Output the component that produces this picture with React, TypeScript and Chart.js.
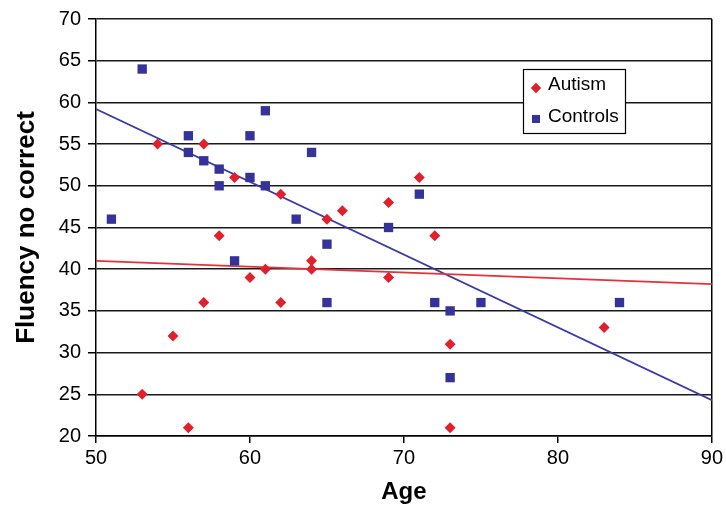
import React, { useEffect, useRef } from 'react';
import { Chart, registerables } from 'chart.js';

Chart.register(...registerables);

// ---- Data ----
const autismAge = [54, 57, 59, 62, 58, 60, 61, 57, 62, 55, 53, 56, 64, 64, 65, 66, 69, 71, 72, 69, 73, 83, 73];
const autismFluency = [55, 55, 51, 49, 44, 39, 40, 36, 36, 32, 25, 21, 41, 40, 46, 47, 48, 51, 44, 39, 31, 33, 21];

const controlsAge = [51, 53, 56, 56, 57, 58, 58, 59, 60, 60, 61, 61, 63, 64, 65, 65, 69, 71, 72, 73, 75, 84, 73];
const controlsFluency = [46, 64, 56, 54, 53, 52, 50, 41, 56, 51, 59, 50, 46, 54, 43, 36, 45, 49, 36, 35, 36, 36, 27];

const autismTrendAge = [50, 90];
const autismTrendFluency = [41.0, 38.2];
const controlsTrendAge = [50, 90];
const controlsTrendFluency = [59.2, 24.3];

const xTickValues = [50, 60, 70, 80, 90];
const yTickValues = [20, 25, 30, 35, 40, 45, 50, 55, 60, 65, 70];

const seriesLabels = ['Autism', 'Controls'];
const xTitle = 'Age';
const yTitle = 'Fluency no correct';

const FONT = "'Liberation Sans', Arial, Helvetica, sans-serif";
const RED = '#e0202c';
const BLUE = '#333399';

const toPoints = (xs: number[], ys: number[]) => xs.map((x, i) => ({ x, y: ys[i] }));

const insetLegend = {
  id: 'insetLegend',
  afterDraw(chart: any) {
    const ctx = chart.ctx as CanvasRenderingContext2D;
    const area = chart.chartArea;
    const left = area.left + 427;
    const top = area.top + 50;
    const w = 102;
    const h = 64;
    ctx.save();
    ctx.fillStyle = '#ffffff';
    ctx.fillRect(left, top, w, h);
    ctx.strokeStyle = '#000000';
    ctx.lineWidth = 1.2;
    ctx.strokeRect(left + 0.5, top + 0.5, w, h);
    ctx.font = `19px ${FONT}`;
    ctx.textBaseline = 'middle';
    ctx.textAlign = 'left';
    const ds = chart.data.datasets;
    const cx = left + 13;
    // Autism entry
    const r1y = top + 15.5;
    const my1 = top + 19;
    const d = 5.2;
    ctx.fillStyle = ds[0].backgroundColor;
    ctx.beginPath();
    ctx.moveTo(cx, my1 - d);
    ctx.lineTo(cx + d, my1);
    ctx.lineTo(cx, my1 + d);
    ctx.lineTo(cx - d, my1);
    ctx.closePath();
    ctx.fill();
    ctx.fillStyle = '#000';
    ctx.fillText(ds[0].label, left + 25, r1y);
    // Controls entry
    const r2y = top + 48;
    const my2 = top + 50;
    ctx.fillStyle = ds[1].backgroundColor;
    ctx.fillRect(cx - 4, my2 - 4, 8, 8);
    ctx.fillStyle = '#000';
    ctx.fillText(ds[1].label, left + 25, r2y);
    ctx.restore();
  },
};

export default function App() {
  const canvasRef = useRef<HTMLCanvasElement | null>(null);

  useEffect(() => {
    const canvas = canvasRef.current;
    if (!canvas) return;
    const chart = new Chart(canvas, {
      type: 'scatter',
      data: {
        datasets: [
          {
            label: seriesLabels[0],
            data: toPoints(autismAge, autismFluency),
            pointStyle: 'rectRot',
            pointRadius: 5.5,
            pointHoverRadius: 5.5,
            backgroundColor: RED,
            borderColor: RED,
            borderWidth: 0,
          },
          {
            label: seriesLabels[1],
            data: toPoints(controlsAge, controlsFluency),
            pointStyle: 'rect',
            pointRadius: 6.6,
            pointHoverRadius: 6.6,
            backgroundColor: BLUE,
            borderColor: BLUE,
            borderWidth: 0,
          },
          {
            label: 'Autism trend',
            data: toPoints(autismTrendAge, autismTrendFluency),
            showLine: true,
            pointRadius: 0,
            borderColor: '#e8303a',
            backgroundColor: '#e8303a',
            borderWidth: 1.8,
          },
          {
            label: 'Controls trend',
            data: toPoints(controlsTrendAge, controlsTrendFluency),
            showLine: true,
            pointRadius: 0,
            borderColor: '#3a3aa8',
            backgroundColor: '#3a3aa8',
            borderWidth: 1.8,
          },
        ],
      },
      options: {
        responsive: false,
        animation: false,
        devicePixelRatio: 1,
        layout: { padding: { top: 19, right: 13, left: 0, bottom: 0 } },
        plugins: {
          legend: { display: false },
          tooltip: { enabled: false },
        },
        scales: {
          x: {
            type: 'linear',
            min: 50,
            max: 90,
            afterBuildTicks: (s: any) => {
              s.ticks = xTickValues.map((v) => ({ value: v }));
            },
            afterFit: (s: any) => {
              s.height = 73;
            },
            ticks: {
              font: { family: FONT, size: 20 },
              color: '#000',
              padding: 3,
              maxRotation: 0,
            },
            grid: {
              color: (c: any) => (c.tick && c.tick.value === 90 ? '#000' : 'rgba(0,0,0,0)'),
              tickColor: '#000',
              tickLength: 7,
              lineWidth: 1.5,
            },
            border: { color: '#000', width: 1.5 },
            title: {
              display: true,
              text: xTitle,
              color: '#000',
              font: { family: FONT, size: 24, weight: 'bold' },
              padding: { top: 0, bottom: 2 },
            },
          },
          y: {
            type: 'linear',
            min: 20,
            max: 70,
            afterBuildTicks: (s: any) => {
              s.ticks = yTickValues.map((v) => ({ value: v }));
            },
            afterFit: (s: any) => {
              s.width = 96;
            },
            ticks: {
              font: { family: FONT, size: 20 },
              color: '#000',
              padding: 7,
            },
            grid: {
              color: '#1a1a1a',
              tickColor: '#000',
              tickLength: 8,
              lineWidth: 1.5,
            },
            border: { color: '#000', width: 1.5 },
            title: {
              display: true,
              text: yTitle,
              color: '#000',
              font: { family: FONT, size: 26, weight: 'bold' },
              padding: { top: 11, bottom: 0 },
            },
          },
        },
      } as any,
      plugins: [insetLegend],
    });
    return () => chart.destroy();
  }, []);

  return (
    <div style={{ position: 'fixed', left: 0, top: 0, width: 726, height: 509, background: '#fff' }}>
      <canvas ref={canvasRef} width={726} height={509} style={{ display: 'block' }} />
    </div>
  );
}
